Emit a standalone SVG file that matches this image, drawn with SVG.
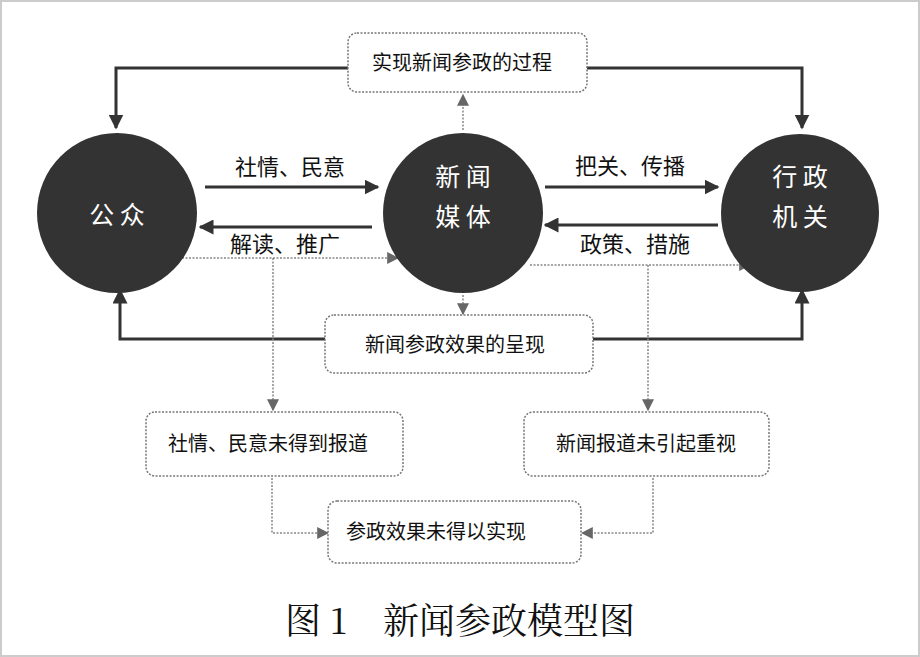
<svg xmlns="http://www.w3.org/2000/svg" width="920" height="657" viewBox="0 0 920 657">
<style>
.c{fill:#333;}
.ct{fill:#fff;font-family:"Noto Sans CJK SC",sans-serif;font-size:25px;text-anchor:middle}
.b{fill:#fff;stroke:#777;stroke-width:1.5;stroke-dasharray:2 1.5}
.t{fill:#111;font-family:"Noto Sans CJK SC",sans-serif;font-size:20px;text-anchor:middle}
.l{fill:#111;font-family:"Noto Sans CJK SC",sans-serif;font-size:22px;text-anchor:middle}
.s{fill:none;stroke:#333;stroke-width:3}
.d{fill:none;stroke:#888;stroke-width:1.5;stroke-dasharray:2 1.5}
</style>
<defs>
<marker id="a" viewBox="0 0 10 10" refX="9" refY="5" markerWidth="5" markerHeight="5" orient="auto"><path d="M0,0L10,5L0,10z" fill="#333"/></marker>
<marker id="g" viewBox="0 0 10 10" refX="9" refY="5" markerWidth="8" markerHeight="8" orient="auto"><path d="M0,0L10,5L0,10z" fill="#666"/></marker>
</defs>
<rect width="920" height="657" fill="#fff"/>
<rect x="1" y="1" width="918" height="655" fill="none" stroke="#ccc" stroke-width="2"/>
<g id="connectors">
<path class="s" d="M348,68H116V128" marker-end="url(#a)"/>
<path class="s" d="M587,68H802V128" marker-end="url(#a)"/>
<path class="s" d="M205,187H378" marker-end="url(#a)"/>
<path class="s" d="M372,227H200" marker-end="url(#a)"/>
<path class="s" d="M545,187H718" marker-end="url(#a)"/>
<path class="s" d="M718,225H545" marker-end="url(#a)"/>
<path class="s" d="M325,339H120V290" marker-end="url(#a)"/>
<path class="s" d="M593,339H802V290" marker-end="url(#a)"/>
<path class="d" d="M175,258H398" marker-end="url(#g)"/>
<path class="d" d="M273,258V410" marker-end="url(#g)"/>
<path class="d" d="M530,265H750" marker-end="url(#g)"/>
<path class="d" d="M648,265V410" marker-end="url(#g)"/>
<path class="d" d="M463,130V95" marker-end="url(#g)"/>
<path class="d" d="M463,295V314" marker-end="url(#g)"/>
<path class="d" d="M272,478V533H328" marker-end="url(#g)"/>
<path class="d" d="M653,478V533H582" marker-end="url(#g)"/>
</g>
<g class="l">
<text x="290" y="175">社情、民意</text>
<text x="285" y="252">解读、推广</text>
<text x="630" y="174">把关、传播</text>
<text x="635" y="252">政策、措施</text>
</g>
<g id="n1"><circle class="c" cx="117" cy="213" r="80"/><text class="ct" x="117" y="224">公  众</text></g>
<g id="n2"><circle class="c" cx="463" cy="213" r="80"/><text class="ct" x="463" y="186">新  闻</text><text class="ct" x="463" y="226">媒  体</text></g>
<g id="n3"><circle class="c" cx="800" cy="213" r="79"/><text class="ct" x="800" y="186">行  政</text><text class="ct" x="800" y="226">机  关</text></g>
<g id="b1"><rect class="b" x="348" y="33" width="239" height="59" rx="9"/><text class="t" x="462" y="70">实现新闻参政的过程</text></g>
<g id="b2"><rect class="b" x="325" y="315" width="268" height="58" rx="9"/><text class="t" x="455" y="352">新闻参政效果的呈现</text></g>
<g id="b3"><rect class="b" x="146" y="412" width="257" height="64" rx="9"/><text class="t" x="268" y="451">社情、民意未得到报道</text></g>
<g id="b4"><rect class="b" x="524" y="412" width="245" height="64" rx="9"/><text class="t" x="646" y="451">新闻报道未引起重视</text></g>
<g id="b5"><rect class="b" x="328" y="501" width="253" height="62" rx="9"/><text class="t" x="436" y="539">参政效果未得以实现</text></g>
<text x="460" y="634" font-family="'Noto Serif CJK SC','Noto Sans CJK SC',serif" font-size="36" text-anchor="middle" fill="#111">图 1　新闻参政模型图</text>
</svg>
